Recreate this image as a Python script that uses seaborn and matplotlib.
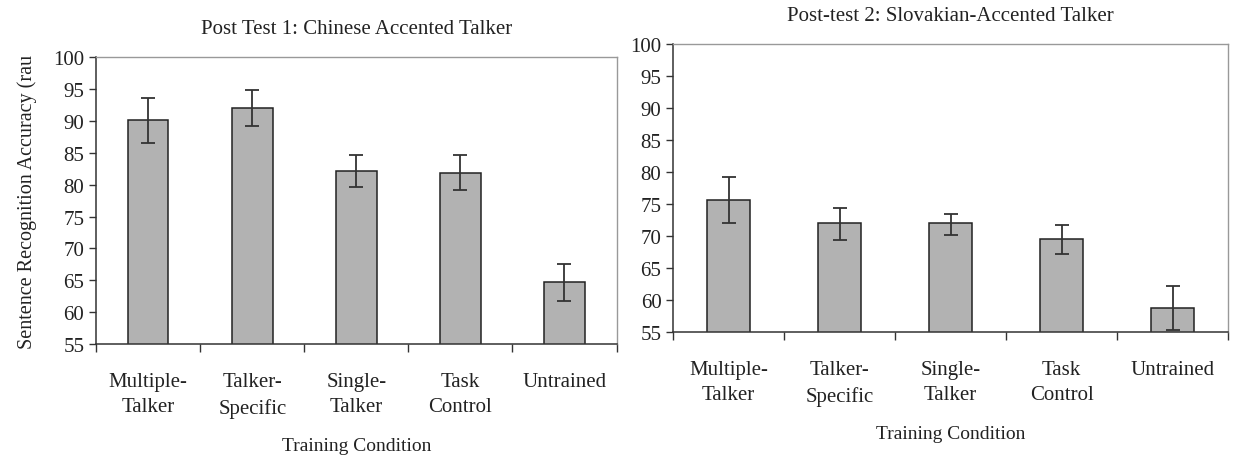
import numpy as np
import pandas as pd
import matplotlib
matplotlib.use('Agg')
import matplotlib.pyplot as plt
import seaborn as sns

# Data
conditions = ['Multiple-\nTalker', 'Talker-\nSpecific', 'Single-\nTalker', 'Task\nControl', 'Untrained']

chinese_mean = [90.2, 92.0, 82.2, 81.8, 64.7]
chinese_low = [86.6, 89.2, 79.6, 79.2, 61.8]
chinese_high = [93.5, 94.8, 84.6, 84.6, 67.5]

slovak_mean = [75.7, 72.0, 72.0, 69.6, 58.8]
slovak_low = [72.0, 69.4, 70.2, 67.2, 55.4]
slovak_high = [79.2, 74.4, 73.5, 71.7, 62.2]

titles = ['Post Test 1: Chinese Accented Talker', 'Post-test 2: Slovakian-Accented Talker']

sns.set_style('white')
plt.rcParams['font.family'] = ['Liberation Serif', 'DejaVu Serif']

fig = plt.figure(figsize=(12.33, 4.64), dpi=100)
ax1 = fig.add_axes([0.078, 0.256, 0.422, 0.619])
ax2 = fig.add_axes([0.546, 0.282, 0.450, 0.621])

panels = [
    (ax1, chinese_mean, chinese_low, chinese_high, titles[0]),
    (ax2, slovak_mean, slovak_low, slovak_high, titles[1]),
]

for ax, mean, low, high, title in panels:
    df = pd.DataFrame({'condition': conditions, 'accuracy': mean})
    sns.barplot(data=df, x='condition', y='accuracy', ax=ax, color='#b2b2b2',
                width=0.39, edgecolor='#222222', linewidth=1.1, saturation=1)
    m = np.array(mean)
    yerr = [m - np.array(low), np.array(high) - m]
    ax.errorbar(np.arange(len(conditions)), m, yerr=yerr, fmt='none',
                ecolor='#333333', elinewidth=1.3, capsize=5, capthick=1.3)
    ax.set_ylim(55, 100)
    ax.set_xlim(-0.5, len(conditions) - 0.5)
    ax.set_yticks(range(55, 101, 5))
    # category labels sit between the boundary ticks (Excel style)
    ax.set_xticks(np.arange(-0.5, len(conditions), 1.0))
    ax.set_xticklabels([])
    ax.set_xticks(np.arange(len(conditions)), minor=True)
    ax.set_xticklabels(conditions, minor=True, fontsize=15, color='#222222', linespacing=1.45)
    ax.tick_params(axis='x', which='minor', length=0, pad=20)
    ax.tick_params(axis='x', which='major', length=6, width=1, color='#333333', direction='out', bottom=True)
    ax.tick_params(axis='y', length=5, width=1, color='#333333', direction='out', left=True,
                   labelsize=15, labelcolor='#222222')
    for side in ['left', 'bottom']:
        ax.spines[side].set_color('#333333')
        ax.spines[side].set_linewidth(1.1)
    for side in ['top', 'right']:
        ax.spines[side].set_color('#999999')
        ax.spines[side].set_linewidth(1.0)
    ax.set_xlabel('Training Condition', fontsize=14, color='#222222', labelpad=14)
    ax.set_ylabel('')
    ax.set_title(title, fontsize=15, color='#222222', pad=17)

ax1.set_ylabel('Sentence Recognition Accuracy (rau', fontsize=14.5, color='#222222', labelpad=12)

fig.savefig('out.png', dpi=100)
